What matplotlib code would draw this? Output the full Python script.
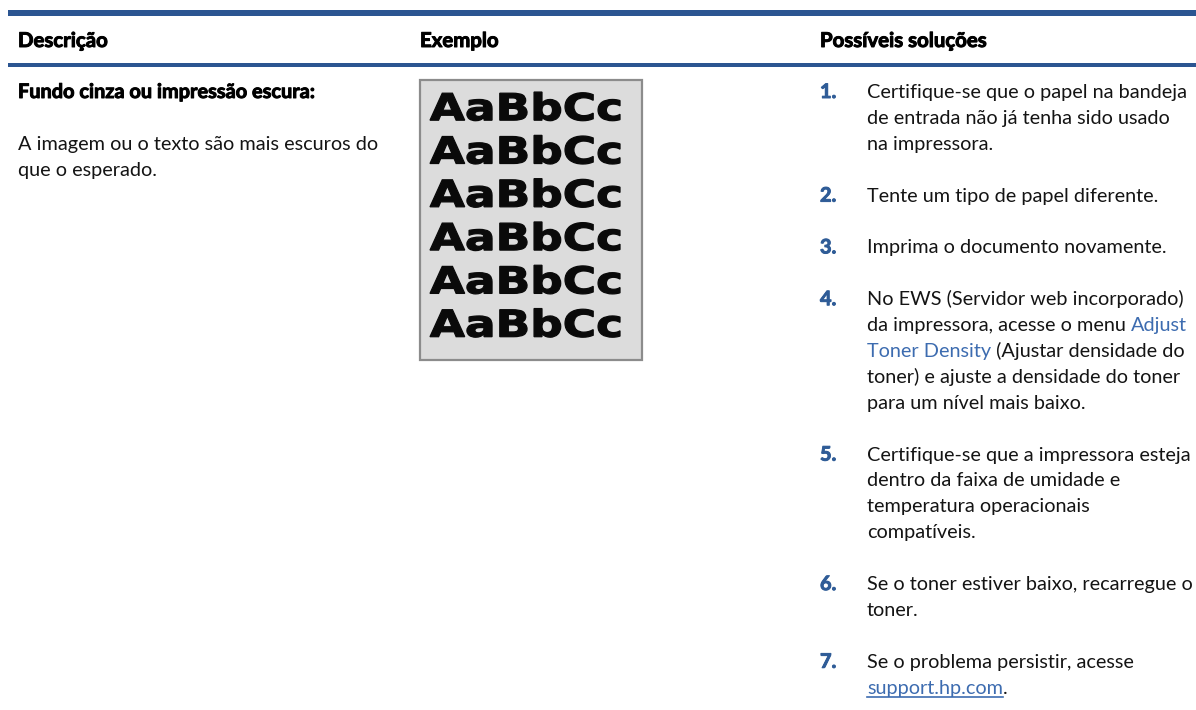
import matplotlib
matplotlib.use("Agg")
import matplotlib.pyplot as plt
import matplotlib.patheffects as pe
from matplotlib.patches import Rectangle, PathPatch
from matplotlib.textpath import TextPath
from matplotlib.font_manager import FontProperties
from matplotlib.transforms import Affine2D

# ---------------- content ----------------
headers = ["Descrição", "Exemplo", "Possíveis soluções"]
desc_title = "Fundo cinza ou impressão escura:"
desc_lines = ["A imagem ou o texto são mais escuros do", "que o esperado."]
sample_text = "AaBbCc"
sample_rows = 6
item_numbers = ["1.", "2.", "3.", "4.", "5.", "6.", "7."]
# each line is a list of runs: (text, style) ; style: n=normal, l=link, u=underlined link
solutions = [
    [[("Certifique-se que o papel na bandeja", "n")],
     [("de entrada não já tenha sido usado", "n")],
     [("na impressora.", "n")]],
    [[("Tente um tipo de papel diferente.", "n")]],
    [[("Imprima o documento novamente.", "n")]],
    [[("No EWS (Servidor web incorporado)", "n")],
     [("da impressora, acesse o menu ", "n"), ("Adjust", "l")],
     [("Toner Density", "l"), (" (Ajustar densidade do", "n")],
     [("toner) e ajuste a densidade do toner", "n")],
     [("para um nível mais baixo.", "n")]],
    [[("Certifique-se que a impressora esteja", "n")],
     [("dentro da faixa de umidade e", "n")],
     [("temperatura operacionais", "n")],
     [("compatíveis.", "n")]],
    [[("Se o toner estiver baixo, recarregue o", "n")],
     [("toner.", "n")]],
    [[("Se o problema persistir, acesse", "n")],
     [("support.hp.com", "u"), (".", "n")]],
]

# ---------------- style ----------------
W, H = 1196, 710
BLUE_LINE = "#2b5591"
BLUE_NUM = "#2f5c97"
BLUE_LINK = "#3d6cb0"
TXT = "#141414"
FAM = ["Lato", "DejaVu Sans"]
HEAVY = "bold"

fig = plt.figure(figsize=(W / 100, H / 100), dpi=100)
ax = fig.add_axes([0, 0, 1, 1])
ax.set_xlim(0, W)
ax.set_ylim(H, 0)
ax.axis("off")
fig.canvas.draw()
renderer = fig.canvas.get_renderer()


def text_width(s, size, weight="normal"):
    t = ax.text(0, 0, s, fontsize=size, family=FAM, fontweight=weight)
    w = t.get_window_extent(renderer).width
    t.remove()
    return w


def thick(color):
    return [pe.withStroke(linewidth=0.7, foreground=color)]


# fit font sizes to measured widths in the reference
body_size = 13 * 320 / text_width("Certifique-se que o papel na bandeja", 13)
head_size = 13 * 167 / text_width("Possíveis soluções", 13, HEAVY)

# header rules
ax.add_patch(Rectangle((8, 10), W - 8, 6, color=BLUE_LINE, lw=0))
ax.add_patch(Rectangle((8, 63), W - 8, 4, color=BLUE_LINE, lw=0))

col_x = [18, 420, 820]
for x, h in zip(col_x, headers):
    ax.text(x, 47, h, fontsize=head_size, family=FAM, fontweight=HEAVY,
            color="black", va="baseline", path_effects=thick("black"))

pitch = 25.9
first = 98

# description column
ax.text(col_x[0], first, desc_title, fontsize=body_size, family=FAM,
        fontweight=HEAVY, color="black", va="baseline",
        path_effects=thick("black"))
y = first + 2 * pitch
for ln in desc_lines:
    ax.text(col_x[0], y, ln, fontsize=body_size, family=FAM, color=TXT,
            va="baseline")
    y += pitch

# example picture
bx, by, bw, bh = 420, 80, 222, 280
ax.add_patch(Rectangle((bx, by), bw, bh, facecolor="#dcdcdc",
                       edgecolor="#8c8c8c", lw=1.6))
fp = FontProperties(family="DejaVu Sans", weight="bold")
tp = TextPath((0, 0), sample_text, size=1, prop=fp)
ext = tp.get_extents()
cap = 27.0
sy = cap / 0.729
sx = 190 / ext.width
row_c0, row_step = 106.7, 43.3
for i in range(sample_rows):
    base = row_c0 + i * row_step + cap / 2
    tr = Affine2D().translate(-ext.x0, 0).scale(sx, -sy).translate(430, base)
    ax.add_patch(PathPatch(tr.transform_path(tp), facecolor="#0a0a0a",
                           edgecolor="#0a0a0a", lw=0.9))

# solutions column
num_x, txt_x = 820, 867
y = first
bar_w = text_width("|", body_size)
for num, lines in zip(item_numbers, solutions):
    ax.text(num_x, y, num, fontsize=body_size, family=FAM, fontweight=HEAVY,
            color=BLUE_NUM, va="baseline", path_effects=thick(BLUE_NUM))
    for line in lines:
        prefix = ""
        for s, st in line:
            off = 0 if prefix == "" else text_width(prefix + "|", body_size) - bar_w
            col = TXT if st == "n" else BLUE_LINK
            ax.text(txt_x + off, y, s, fontsize=body_size, family=FAM,
                    color=col, va="baseline")
            if st == "u":
                wd = text_width(s, body_size)
                ax.plot([txt_x + off, txt_x + off + wd], [y + 3, y + 3],
                        color=BLUE_LINK, lw=1.2)
            prefix += s
        y += pitch
    y += pitch

fig.savefig("out.png", dpi=100)
